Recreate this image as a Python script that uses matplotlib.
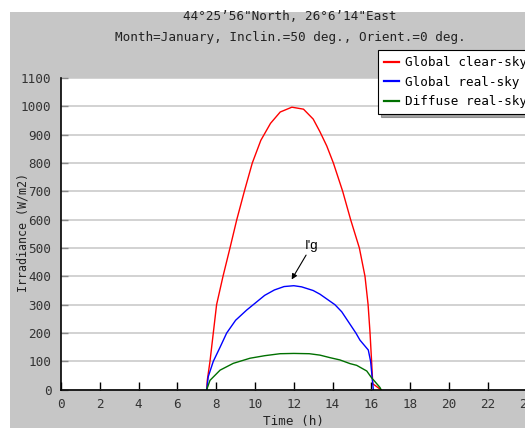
import matplotlib
matplotlib.use("Agg")
import matplotlib.pyplot as plt
from matplotlib.patches import Rectangle

# ---- data ----
t_clear = [7.51, 7.54, 7.68, 7.85, 8.02, 8.35, 8.71, 9.06, 9.45, 9.86, 10.3, 10.8, 11.3,
           11.9, 12.5, 13.0, 13.35, 13.7, 14.04, 14.52, 14.93, 15.38, 15.67, 15.83, 15.93,
           16.01, 16.07, 16.49]
g_clear = [0, 33, 100, 200, 300, 400, 500, 600, 700, 800, 880, 940, 980,
           997, 990, 955, 910, 860, 800, 700, 600, 500, 400, 300, 200,
           100, 21, 0]

t_real = [7.51, 7.59, 7.85, 8.2, 8.54, 9.0, 9.57, 9.91, 10.5, 11.0, 11.5, 12.0, 12.4,
          13.0, 13.35, 14.12, 14.47, 15.2, 15.41, 15.84, 15.96, 16.05, 16.1]
g_real = [0, 46, 100, 150, 200, 245, 281, 300, 333, 352, 364, 367, 363,
          350, 337, 300, 275, 200, 175, 140, 100, 34, 0]

t_diff = [7.51, 7.68, 8.2, 8.88, 9.74, 10.5, 11.29, 12.0, 12.8, 13.35, 13.87, 14.38,
          14.9, 15.24, 15.76, 16.01, 16.19, 16.44, 16.5]
d_real = [0, 33, 69, 93, 111, 120, 127, 128, 127, 122, 113, 105,
          92, 86, 66, 42, 28, 8, 0]

series_labels = ["Global clear-sky", "Global real-sky", "Diffuse real-sky"]
series_colors = ["#ff0000", "#0000ff", "#007000"]

x_ticks = list(range(0, 25, 2))
y_ticks = list(range(0, 1101, 100))

title1 = "44°25’56\"North, 26°6’14\"East"
title2 = "Month=January, Inclin.=50 deg., Orient.=0 deg."

# ---- figure ----
W, H = 525, 428
fig = plt.figure(figsize=(W / 100, H / 100), dpi=100, facecolor="white")
bg = "#c6c6c6"
fig.patches.append(Rectangle((10 / W, 0), 1 - 10 / W, 1 - 12 / H,
                             transform=fig.transFigure, facecolor=bg,
                             edgecolor="none", zorder=-5))

mono = "DejaVu Sans Mono"
fs = 9.1

left, right, top, bottom = 61, 526.6, 78, 389.7
ax = fig.add_axes([left / W, 1 - bottom / H, (right - left) / W, (bottom - top) / H])
ax.set_zorder(2)
ax.set_facecolor("white")
ax.set_xlim(0, 24)
ax.set_ylim(0, 1100)

for s in ["top", "right"]:
    ax.spines[s].set_visible(False)
for s in ["left", "bottom"]:
    ax.spines[s].set_color("black")
    ax.spines[s].set_linewidth(1.2)

ax.set_xticks(x_ticks)
ax.set_yticks(y_ticks)
ax.yaxis.grid(True, color="#cfcfcf", linewidth=1.3)
ax.set_axisbelow(True)
ax.tick_params(axis="x", direction="in", length=6, width=1, color="black",
               labelsize=fs, pad=6)
ax.tick_params(axis="y", direction="in", length=5, width=1, color="#888888",
               labelsize=fs, pad=7)
for lab in ax.get_xticklabels() + ax.get_yticklabels():
    lab.set_fontfamily(mono)
    lab.set_color("#333333")

l1, = ax.plot(t_clear, g_clear, color=series_colors[0], lw=1.0, label=series_labels[0])
l2, = ax.plot(t_real, g_real, color=series_colors[1], lw=1.0, label=series_labels[1])
l3, = ax.plot(t_diff, d_real, color=series_colors[2], lw=1.0, label=series_labels[2])

ax.set_xlabel("Time (h)", fontfamily=mono, fontsize=fs, labelpad=3, color="#222222")
ax.set_ylabel("Irradiance (W/m2)", fontfamily=mono, fontsize=8.4, color="#222222",
              va="center", ha="center")
ax.yaxis.set_label_coords((23 - left) / (right - left), (bottom - 232) / (bottom - top))

ax.annotate("I'g", xy=(11.89, 389), xytext=(12.55, 506),
            fontsize=9.5, family="Liberation Sans", va="center", ha="left",
            arrowprops=dict(arrowstyle="-|>", color="black", lw=0.8,
                            mutation_scale=8, shrinkA=0, shrinkB=0))

fig.text(290 / W, 1 - 17 / H, title1, ha="center", va="center",
         fontfamily=mono, fontsize=fs, color="#222222")
fig.text(290 / W, 1 - 37 / H, title2, ha="center", va="center",
         fontfamily=mono, fontsize=fs, color="#222222")

leg = fig.legend(handles=[l1, l2, l3], loc="upper left",
                 bbox_to_anchor=(378 / W, 1 - 50 / H), bbox_transform=fig.transFigure,
                 prop={"family": mono, "size": fs}, frameon=True, fancybox=False,
                 shadow=True, edgecolor="black", facecolor="white", framealpha=1,
                 handlelength=1.2, handletextpad=0.4, labelspacing=0.5,
                 borderpad=0.5, borderaxespad=0)
leg.set_zorder(5)
leg.get_frame().set_linewidth(0.8)
for line in leg.get_lines():
    line.set_linewidth(1.6)

fig.savefig("out.png", dpi=100, facecolor="white")
